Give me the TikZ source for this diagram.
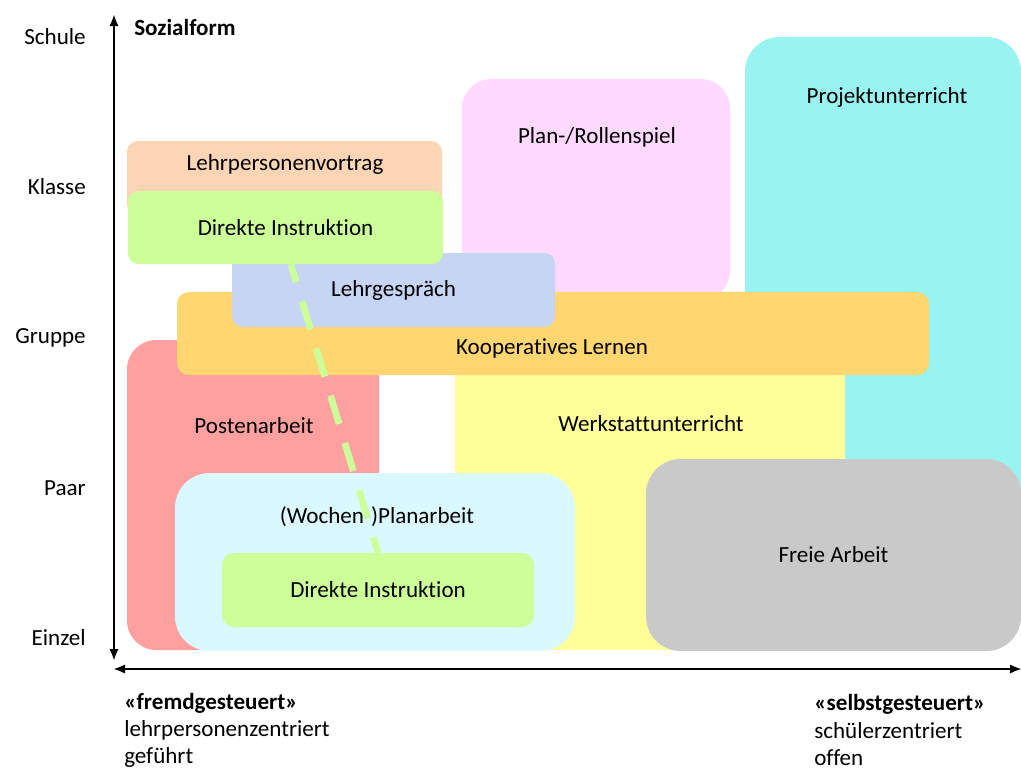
\documentclass[tikz,border=0pt]{standalone}
\usepackage{fontspec}
\setmainfont{Carlito}[Ligatures=NoCommon]
\usetikzlibrary{arrows.meta}
\definecolor{projektcyan}{RGB}{153,243,240}
\definecolor{planrosa}{RGB}{255,217,255}
\definecolor{vortragpfirsich}{RGB}{252,213,181}
\definecolor{instruktgruen}{RGB}{204,255,153}
\definecolor{gespraechblau}{RGB}{197,213,243}
\definecolor{koopgelb}{RGB}{255,214,112}
\definecolor{postenrot}{RGB}{255,160,160}
\definecolor{werkgelb}{RGB}{255,255,153}
\definecolor{freigrau}{RGB}{201,201,201}
\definecolor{planhellblau}{RGB}{217,248,255}

\tikzset{
  feld/.style={rounded corners=#1, inner sep=0pt, draw=none},
  feld/.default=8pt,
  schrift/.style={font=\fontsize{17.3}{20.3}\selectfont, inner sep=0pt},
  achse/.style={line width=2.2pt, {Latex[length=9pt,width=7pt]}-{Latex[length=9pt,width=7pt]}},
  gestrichelt/.style={draw=instruktgruen, line width=5pt, dash pattern=on 22pt off 15pt, dash phase=8pt}
}

\begin{document}
\begin{tikzpicture}[x=0.75pt, y=-0.75pt, every node/.style={schrift}]
  \useasboundingbox (0,0) rectangle (1021,769);

  % Felder, von hinten nach vorne
  \node[feld=26pt, fill=projektcyan, minimum width=207pt, minimum height=459.75pt] (projekt) at (883,343.5) {};
  \node[feld=22pt, fill=planrosa, minimum width=201pt, minimum height=165.75pt] (plan) at (596,189.5) {};
  \node[feld=22pt, fill=postenrot, minimum width=189pt, minimum height=232.5pt] (posten) at (253,495) {};
  \node[feld, fill=werkgelb, minimum width=292.5pt, minimum height=232.5pt] (werkstatt) at (650,495) {};
  \node[feld, fill=vortragpfirsich, minimum width=236.25pt, minimum height=55.5pt] (vortrag) at (284.5,178) {};
  \node[feld=9pt, fill=koopgelb, minimum width=564pt, minimum height=62.25pt] (koop) at (553,333.5) {};
  \node[feld, fill=gespraechblau, minimum width=242.25pt, minimum height=55.5pt] (gespraech) at (393.5,290) {Lehrgespräch};
  \node[feld, fill=instruktgruen, minimum width=236.25pt, minimum height=54.75pt] (di1) at (285.5,227.5) {Direkte Instruktion};
  \node[feld=26pt, fill=freigrau, minimum width=281.25pt, minimum height=144pt] (frei) at (833.5,555) {Freie Arbeit};
  \node[feld=26pt, fill=planhellblau, minimum width=300pt, minimum height=133.5pt] (wochen) at (375,562) {};
  \node[feld=9pt, fill=instruktgruen, minimum width=234pt, minimum height=55.5pt] (di2) at (378,590) {Direkte Instruktion};

  % Beschriftungen der Felder
  \node (projekt-t) at (887,97) {Projektunterricht};
  \node (plan-t) at (597,137) {Plan-/Rollenspiel};
  \node (vortrag-t) at (285,164) {Lehrpersonenvortrag};
  \node (koop-t) at (552,348) {Kooperatives Lernen};
  \node (posten-t) at (254,426) {Postenarbeit};
  \node (werkstatt-t) at (651,424) {Werkstattunterricht};
  \node (wochen-t) at (377,517) {(Wochen-)Planarbeit};

  \draw[gestrichelt] ([xshift=4pt]di1.south) -- (di2.north);

  % Achsen
  \coordinate (yunten) at (114,661);
  \coordinate (yoben) at (114,14);
  \coordinate (xlinks) at (113,669);
  \coordinate (xrechts) at (1022,669);
  \draw[achse] (yunten) -- (yoben);
  \draw[achse] (xlinks) -- (xrechts);

  \node[anchor=west] (sozialform) at (134,27) {\textbf{Sozialform}};
  \node[anchor=east] (schule) at (86,37) {Schule};
  \node[anchor=east] (klasse) at (86,187) {Klasse};
  \node[anchor=east] (gruppe) at (86,338) {Gruppe};
  \node[anchor=east] (paar) at (86,488) {Paar};
  \node[anchor=east] (einzel) at (86,638) {Einzel};

  \node[anchor=west, align=left] (fremd) at (124,730) {\textbf{«fremdgesteuert»}\\lehrpersonenzentriert\\geführt};
  \node[anchor=west, align=left] (selbst) at (814,730) {\textbf{«selbstgesteuert»}\\schülerzentriert\\offen};
\end{tikzpicture}
\end{document}
